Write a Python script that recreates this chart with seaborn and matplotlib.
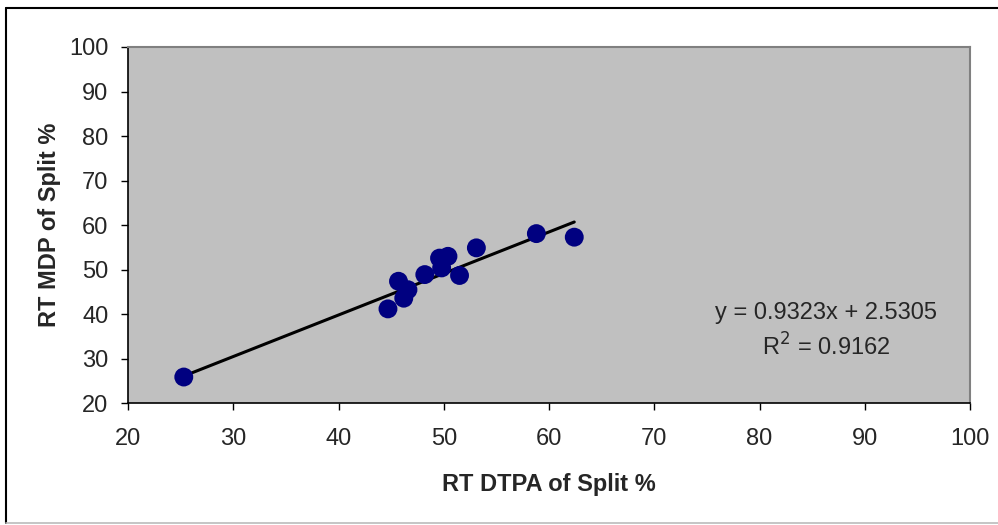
import matplotlib
matplotlib.use("Agg")
import matplotlib.pyplot as plt
from matplotlib.lines import Line2D
import numpy as np
import pandas as pd
import seaborn as sns

# Measured split percentages: DTPA (x) vs MDP (y)
dtpa_split = [25.3, 44.7, 45.7, 46.2, 46.6, 48.2, 49.6, 49.8, 50.4, 51.5, 53.1, 58.8, 62.4]
mdp_split = [25.9, 41.2, 47.4, 43.6, 45.5, 48.9, 52.6, 50.4, 53.0, 48.7, 54.9, 58.1, 57.3]

# Linear trendline coefficients and fit quality
slope = 0.9323
intercept = 2.5305
r_squared = 0.9162

x_ticks = [20, 30, 40, 50, 60, 70, 80, 90, 100]
y_ticks = [20, 30, 40, 50, 60, 70, 80, 90, 100]

sns.set_theme(style="white")
plt.rcParams["font.family"] = ["Liberation Sans", "DejaVu Sans"]

FS = 17

df = pd.DataFrame({"dtpa": dtpa_split, "mdp": mdp_split})

fig = plt.figure(figsize=(9.98, 5.25), dpi=100)
ax = fig.add_axes([128 / 998, 1 - 403.3 / 525, (970 - 128) / 998, (403.3 - 47) / 525])
ax.set_facecolor("#C0C0C0")

# Trendline across the observed DTPA range
x_fit = np.array([min(dtpa_split), max(dtpa_split)])
fit_df = pd.DataFrame({"x": x_fit, "y": slope * x_fit + intercept})
sns.lineplot(data=fit_df, x="x", y="y", ax=ax, color="black", linewidth=2.2, zorder=2)

sns.scatterplot(data=df, x="dtpa", y="mdp", ax=ax, color="#000080", s=185,
                edgecolor="none", linewidth=0, zorder=3)

ax.set_xlim(20, 100)
ax.set_ylim(20, 100)
ax.set_xticks(x_ticks)
ax.set_yticks(y_ticks)
ax.tick_params(axis="both", direction="out", length=5, width=1, color="black",
               labelsize=FS, bottom=True, left=True)
ax.tick_params(axis="x", pad=13)
ax.tick_params(axis="y", pad=9)

for side in ["left", "bottom"]:
    ax.spines[side].set_color("black")
    ax.spines[side].set_linewidth(1.2)
for side in ["top", "right"]:
    ax.spines[side].set_color("#808080")
    ax.spines[side].set_linewidth(1.5)

ax.set_xlabel("RT DTPA of Split %", fontsize=FS, fontweight="bold", labelpad=16)
ax.set_ylabel("RT MDP of Split %", fontsize=FS, fontweight="bold", labelpad=6)

ax.text(826 / 998, 1 - 313 / 525, f"y = {slope}x + {intercept}",
        transform=fig.transFigure, ha="center", va="center", fontsize=FS)
ax.text(826 / 998, 1 - 347 / 525, f"R$^2$ = {r_squared}",
        transform=fig.transFigure, ha="center", va="center", fontsize=FS)

# Chart frame
fig.add_artist(Line2D([6 / 998, 1.0], [1 - 8 / 525, 1 - 8 / 525],
                      transform=fig.transFigure, color="black", linewidth=1.5))
fig.add_artist(Line2D([6 / 998, 6 / 998], [1 - 8 / 525, 1 - 523 / 525],
                      transform=fig.transFigure, color="black", linewidth=1.5))
fig.add_artist(Line2D([6 / 998, 1.0], [1 - 523 / 525, 1 - 523 / 525],
                      transform=fig.transFigure, color="#BBBBBB", linewidth=1.2))

fig.savefig("out.png", dpi=100, facecolor="white")
